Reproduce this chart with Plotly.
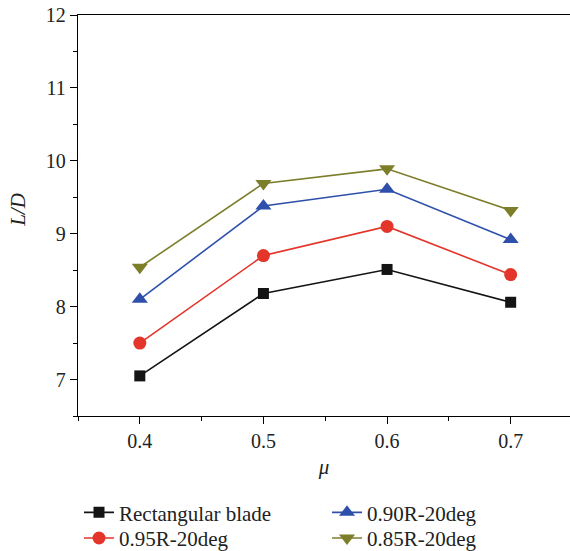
import plotly.graph_objects as go

# Advance ratio values and lift-to-drag ratios for each blade design
mu = [0.4, 0.5, 0.6, 0.7]
rect_blade = [7.05, 8.18, 8.51, 8.06]
r095_20deg = [7.50, 8.70, 9.10, 8.44]
r090_20deg = [8.10, 9.38, 9.61, 8.92]
r085_20deg = [8.54, 9.69, 9.89, 9.32]

y_ticks = [7, 8, 9, 10, 11, 12]
x_ticks = [0.4, 0.5, 0.6, 0.7]

FONT = "Liberation Serif"

# name, values, colour, marker symbol, marker size, legend id
series = [
    ("Rectangular blade", rect_blade, "#141414", "square", 11, "legend"),
    ("0.95R-20deg", r095_20deg, "#e3352a", "circle", 13, "legend2"),
    ("0.90R-20deg", r090_20deg, "#2e50aa", "triangle-up", 14, "legend3"),
    ("0.85R-20deg", r085_20deg, "#7c7e2a", "triangle-down", 14, "legend4"),
]

fig = go.Figure()
for name, vals, color, symbol, size, leg in series:
    fig.add_trace(go.Scatter(
        x=mu, y=vals, name=name, mode="lines+markers",
        line=dict(color=color, width=1.6),
        marker=dict(symbol=symbol, size=size, color=color, line=dict(width=0)),
        legend=leg, showlegend=True,
    ))

axis_common = dict(
    showline=True, linecolor="#000", linewidth=1.3,
    ticks="outside", ticklen=7, tickwidth=1.2, tickcolor="#000",
    showgrid=False, zeroline=False,
    tickfont=dict(family=FONT, size=20, color="#222"),
)


def legend_box(x, y):
    # one legend entry per box, laid out in two columns below the plot
    return dict(
        xref="container", yref="container", x=x, y=y,
        xanchor="left", yanchor="middle",
        font=dict(family=FONT, size=21, color="#222"),
        bgcolor="rgba(0,0,0,0)", itemwidth=30,
    )


fig.update_layout(
    width=570, height=551,
    showlegend=True,
    margin=dict(l=78, r=0, t=15, b=135, autoexpand=False),
    paper_bgcolor="white", plot_bgcolor="white",
    font=dict(family=FONT, color="#222"),
    xaxis=dict(
        **axis_common,
        range=[0.35, 0.748],
        tickvals=x_ticks, ticktext=[f"{v:.1f}" for v in x_ticks],
        mirror=True,
        minor=dict(ticks="outside", ticklen=4, tickwidth=1.2, tickcolor="#000",
                   tickvals=[0.35, 0.45, 0.55, 0.65]),
        title=dict(text="μ", font=dict(family=FONT, size=21, style="italic"),
                   standoff=8),
    ),
    yaxis=dict(
        **axis_common,
        range=[6.5, 12],
        tickvals=y_ticks,
        minor=dict(ticks="outside", ticklen=4, tickwidth=1.2, tickcolor="#000",
                   tickvals=[6.5, 7.5, 8.5, 9.5, 10.5, 11.5]),
    ),
    annotations=[dict(
        text="L/D", textangle=-90, showarrow=False,
        xref="paper", yref="paper", x=-0.122, y=0.514,
        xanchor="center", yanchor="middle",
        font=dict(family=FONT, size=21, style="italic", color="#222"),
    )],
    legend=legend_box(0.1386, 0.0695),
    legend2=legend_box(0.1386, 0.023),
    legend3=legend_box(0.5737, 0.0695),
    legend4=legend_box(0.5737, 0.023),
)

fig.write_html("out.html")
